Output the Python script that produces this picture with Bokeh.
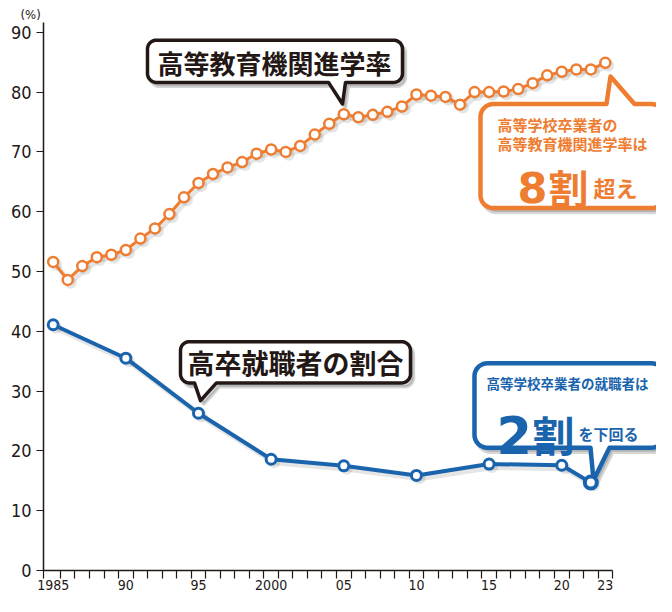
import numpy as np
from bokeh.plotting import figure
from bokeh.models import Range1d, FixedTicker, ColumnDataSource
from bokeh.core.properties import value
from bokeh.transform import dodge
from bokeh.embed import file_html
from bokeh.resources import INLINE

# ---------------- data ----------------
years_orange = list(range(1985, 2024))
higher_ed_rate = [51.6, 48.6, 50.9, 52.4, 52.8, 53.6, 55.5, 57.2, 59.6, 62.4,
                  64.8, 66.3, 67.4, 68.3, 69.7, 70.4, 70.0, 71.0, 72.9, 74.7,
                  76.3, 75.8, 76.2, 76.7, 77.6, 79.6, 79.4, 79.2, 77.9, 80.0,
                  80.0, 80.1, 80.5, 81.5, 82.8, 83.4, 83.8, 83.8, 84.9]
years_blue = [1985, 1990, 1995, 2000, 2005, 2010, 2015, 2020, 2022]
employment_rate = [41.1, 35.5, 26.3, 18.6, 17.5, 15.9, 17.8, 17.6, 14.7]
label_years = [1985, 1990, 1995, 2000, 2005, 2010, 2015, 2020, 2023]
label_texts = ["1985", "90", "95", "2000", "05", "10", "15", "20", "23"]
y_ticks = list(range(0, 100, 10))

title_higher = "高等教育機関進学率"
title_emp = "高卒就職者の割合"
orange_note1 = "高等学校卒業者の"
orange_note2 = "高等教育機関進学率は"
blue_note = "高等学校卒業者の就職者は"
unit_label = "(%)"

# ---------------- style ----------------
ORANGE = "#EE7D31"
BLUE = "#1A64AD"
INK = "#231815"
JP = value("Noto Sans CJK JP")
NUM = "DejaVu Sans Condensed, Roboto"

W, H = 656, 596
BL, BB, BT = 43, 26, 22
PXY = 14.53          # px per year
PXV = 6.089          # px per percent in reference
X0 = 1984.333
x_end = X0 + (W - BL) / PXY

p = figure(width=W, height=H, output_backend="svg", toolbar_location=None,
           x_range=Range1d(X0, x_end), y_range=Range1d(0, 91.64),
           min_border_left=BL, min_border_right=0, min_border_top=BT,
           min_border_bottom=BB)
p.outline_line_color = None
p.grid.visible = False
p.background_fill_color = "white"

p.title.text = unit_label
p.title.align = "left"
p.title.offset = -23
p.title.standoff = 1
p.title.text_font = NUM
p.title.text_font_size = "13px"
p.title.text_font_style = "normal"
p.title.text_color = INK

xa = p.xaxis[0]
xa.ticker = FixedTicker(ticks=label_years,
                        minor_ticks=[X0] + [y + 0.5 for y in range(1985, 2024)])
xa.major_label_overrides = dict(zip(label_years, label_texts))
xa.major_tick_out = 0
xa.major_tick_in = 0
xa.minor_tick_out = 8
xa.minor_tick_in = 0
xa.bounds = (X0, 2023.5)
xa.axis_line_color = INK
xa.axis_line_width = 1.5
xa.minor_tick_line_color = INK
xa.minor_tick_line_width = 1.2
xa.major_label_text_font = NUM
xa.major_label_text_font_size = "14px"
xa.major_label_text_color = INK
xa.major_label_standoff = 1

ya = p.yaxis[0]
ya.ticker = FixedTicker(ticks=y_ticks, minor_ticks=[])
ya.major_tick_out = 7
ya.major_tick_in = 0
ya.minor_tick_line_color = None
ya.axis_line_color = INK
ya.axis_line_width = 1.5
ya.major_tick_line_color = INK
ya.major_tick_line_width = 1.2
ya.major_label_text_font = NUM
ya.major_label_text_font_size = "18px"
ya.major_label_text_color = INK
ya.major_label_standoff = 5


def xd(px):
    return 1985 + (px - 60.7) / PXY


def yd(py):
    return (588.0 - py) / PXV


def callout_shape(l, t, r, b, rad, side, bx1, bx2, tx, ty, n=10):
    pts = []

    def arc(cx, cy, a0, a1):
        for a in np.linspace(np.radians(a0), np.radians(a1), n):
            pts.append((cx + rad * np.cos(a), cy + rad * np.sin(a)))
    arc(l + rad, t + rad, 180, 270)
    if side == "top":
        pts.extend([(bx1, t), (tx, ty), (bx2, t)])
    arc(r - rad, t + rad, 270, 360)
    arc(r - rad, b - rad, 0, 90)
    if side == "bottom":
        pts.extend([(bx2, b), (tx, ty), (bx1, b)])
    arc(l + rad, b - rad, 90, 180)
    return [q[0] for q in pts], [q[1] for q in pts]


def draw_callout(shape, color, lw, dx=3, dy=4):
    px_, py_ = shape
    p.patch([xd(a + dx) for a in px_], [yd(b + dy) for b in py_],
            fill_color="#000000", fill_alpha=0.16, line_color="#000000",
            line_alpha=0.16, line_width=lw)
    p.patch([xd(a) for a in px_], [yd(b) for b in py_], fill_color="white",
            line_color=color, line_width=lw, line_join="round")


draw_callout(callout_shape(155, 48, 410, 91, 9, "bottom", 336, 353, 350, 113), INK, 3.5)
draw_callout(callout_shape(188, 355, 418, 397, 9, "bottom", 202, 224, 208, 415), INK, 3.5)
draw_callout(callout_shape(488, 113, 672, 219, 13, "top", 614, 642, 618, 85), ORANGE, 4.5)
draw_callout(callout_shape(482, 377, 672, 463, 13, "bottom", 598, 617, 601, 496), BLUE, 4.5)


def txt(px, py, s, size, color, font=JP, align="left", baseline="middle", style="bold"):
    p.text(x=[xd(px)], y=[yd(py)], text=[s], text_font=font, text_font_size=size,
           text_color=color, text_align=align, text_baseline=baseline,
           text_font_style=style)


txt(282, 71, title_higher, "26px", INK, align="center")
txt(303, 376, title_emp, "27px", INK, align="center")
txt(505, 134, orange_note1, "15px", ORANGE)
txt(505, 153, orange_note2, "15px", ORANGE)
txt(525, 198, "8", "43px", ORANGE, font=value("DejaVu Sans"), baseline="alphabetic")
txt(556, 197, "割", "40px", ORANGE, baseline="alphabetic")
txt(601, 197, "超え", "22px", ORANGE, baseline="alphabetic")
txt(575, 397, blue_note, "13.5px", BLUE, align="center")
txt(504, 450, "2", "51px", BLUE, font=value("DejaVu Sans"), baseline="alphabetic")
txt(540, 449, "割", "42px", BLUE, baseline="alphabetic")
txt(586, 449, "を下回る", "15px", BLUE, baseline="alphabetic")

# ---------------- series ----------------
src_o = ColumnDataSource(dict(year=years_orange, rate=higher_ed_rate))
src_b = ColumnDataSource(dict(year=years_blue, rate=employment_rate))
src_b_last = ColumnDataSource(dict(year=years_blue[-1:], rate=employment_rate[-1:]))

for src, lw in ((src_o, 3), (src_b, 4)):
    sx = dodge("year", 3 / PXY)
    sy = dodge("rate", -3 / PXV)
    p.line(x=sx, y=sy, source=src, line_color="#000000", line_alpha=0.10, line_width=lw + 2)
    p.scatter(x=sx, y=sy, source=src, size=12, fill_color="#000000", fill_alpha=0.10,
              line_color=None)

p.line("year", "rate", source=src_o, line_color=ORANGE, line_width=3)
p.scatter("year", "rate", source=src_o, size=10, fill_color="white",
          line_color=ORANGE, line_width=2.5)

p.line("year", "rate", source=src_b, line_color=BLUE, line_width=4)
p.scatter("year", "rate", source=src_b, size=10, fill_color="white",
          line_color=BLUE, line_width=3)
p.scatter("year", "rate", source=src_b_last, size=12, fill_color="white",
          line_color=BLUE, line_width=4)

open("out.html", "w").write(file_html(p, INLINE))
